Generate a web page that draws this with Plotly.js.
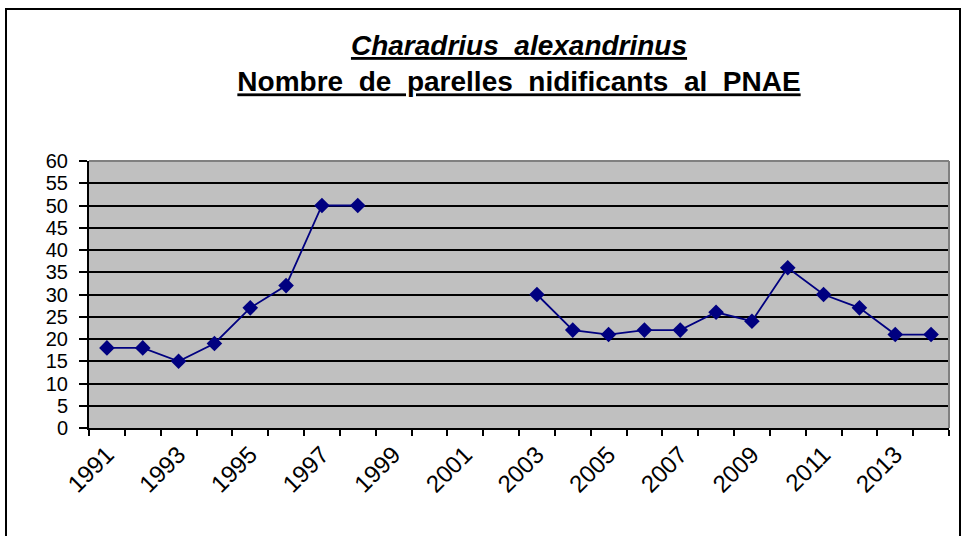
<!DOCTYPE html>
<html>
<head>
<meta charset="utf-8">
<script src="https://cdn.plot.ly/plotly-3.0.1.min.js"></script>
<style>
html, body { margin: 0; padding: 0; background: #ffffff; }
#chart { width: 965px; height: 536px; position: relative; }
#frame { position: absolute; left: 5px; top: 8px; width: 956px; height: 540px; border: 2px solid #000; box-sizing: border-box; pointer-events: none; }
</style>
</head>
<body>
<div id="chart"></div>
<div id="frame"></div>
<script>
// Data
const years = [1991, 1992, 1993, 1994, 1995, 1996, 1997, 1998, 1999, 2000, 2001, 2002,
               2003, 2004, 2005, 2006, 2007, 2008, 2009, 2010, 2011, 2012, 2013, 2014];
const pairs = [18, 18, 15, 19, 27, 32, 50, 50, null, null, null, null,
               30, 22, 21, 22, 22, 26, 24, 36, 30, 27, 21, 21];
const labelYears = [1991, 1993, 1995, 1997, 1999, 2001, 2003, 2005, 2007, 2009, 2011, 2013];
const labelText = ["1991", "1993", "1995", "1997", "1999", "2001", "2003", "2005", "2007", "2009", "2011", "2013"];
const titleLine1 = "Charadrius  alexandrinus";
const titleLine2 = "Nombre  de  parelles  nidificants  al  PNAE";

const trace = {
  x: years,
  y: pairs,
  type: 'scatter',
  mode: 'lines+markers',
  connectgaps: false,
  line: { color: '#000080', width: 1.8 },
  marker: { symbol: 'diamond', size: 12, color: '#000080' },
  hoverinfo: 'x+y'
};

const layout = {
  width: 965,
  height: 536,
  margin: { l: 89, r: 16, t: 161, b: 108 },
  paper_bgcolor: '#ffffff',
  plot_bgcolor: '#c0c0c0',
  showlegend: false,
  font: { family: 'Liberation Sans, Arial, sans-serif', color: '#000' },
  title: {
    text: '<b><u><i>' + titleLine1 + '</i></u></b><br><b><u>' + titleLine2 + '</u></b>',
    font: { size: 28, family: 'Liberation Sans, Arial, sans-serif', color: '#000' },
    xref: 'paper', x: 0.5, xanchor: 'center',
    yref: 'container', y: 1 - 55 / 536, yanchor: 'top'
  },
  xaxis: {
    range: [1990.5, 2014.5],
    tickmode: 'array',
    tickvals: labelYears,
    ticktext: labelText,
    tickangle: -45,
    ticks: '',
    ticklen: 0,
    ticklabelstandoff: 1,
    tickfont: { size: 24 },
    showgrid: false,
    zeroline: false,
    showline: true,
    linecolor: '#000',
    linewidth: 2,
    minor: { tick0: 1990.5, dtick: 1, ticks: 'outside', ticklen: 6, tickwidth: 2, tickcolor: '#000', showgrid: false },
    fixedrange: true
  },
  yaxis: {
    range: [0, 60],
    dtick: 5,
    tick0: 0,
    ticks: 'outside',
    ticklen: 8,
    tickwidth: 2,
    tickcolor: '#000',
    ticklabelstandoff: 7,
    tickfont: { size: 20 },
    showgrid: true,
    gridcolor: '#000',
    gridwidth: 2,
    zeroline: false,
    showline: true,
    linecolor: '#000',
    linewidth: 2,
    fixedrange: true
  },
  shapes: [
    { type: 'line', xref: 'paper', yref: 'paper', x0: 0, x1: 1, y0: 1, y1: 1, line: { color: '#808080', width: 2 }, layer: 'above' },
    { type: 'line', xref: 'paper', yref: 'paper', x0: 1, x1: 1, y0: 0, y1: 1, line: { color: '#808080', width: 2 }, layer: 'above' }
  ]
};

Plotly.newPlot('chart', [trace], layout, { displayModeBar: false, staticPlot: true });
</script>
</body>
</html>
